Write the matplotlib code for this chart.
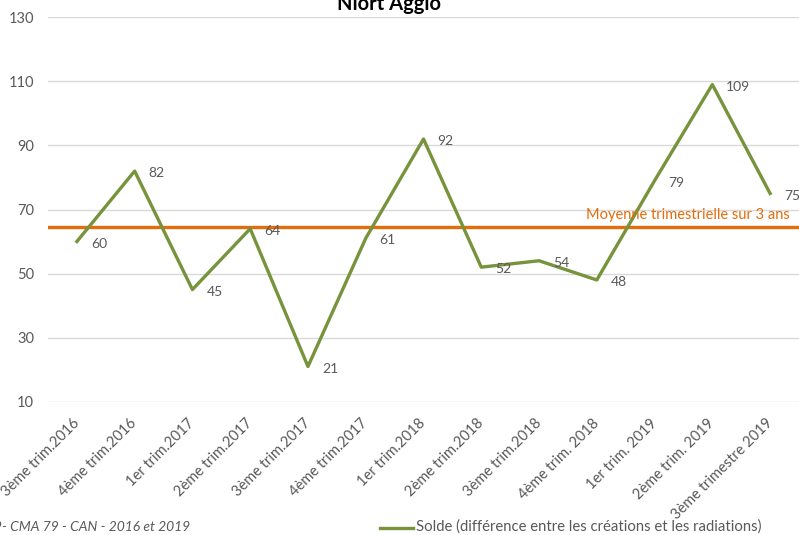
import matplotlib
matplotlib.use("Agg")
import matplotlib.pyplot as plt

categories = ["3ème trim.2016", "4ème trim.2016", "1er trim.2017", "2ème trim.2017",
              "3ème trim.2017", "4ème trim.2017", "1er trim.2018", "2ème trim.2018",
              "3ème trim.2018", "4ème trim. 2018", "1er trim. 2019", "2ème trim. 2019",
              "3ème trimestre 2019"]
solde = [60, 82, 45, 64, 21, 61, 92, 52, 54, 48, 79, 109, 75]
moyenne = 64.4
yticks = [10, 30, 50, 70, 90, 110, 130]

title = "Niort Agglo"
avg_label = "Moyenne trimestrielle sur 3 ans"
legend_label = "Solde (différence entre les créations et les radiations)"
source = "79- CMA 79 - CAN - 2016 et 2019"

plt.rcParams['font.family'] = ['Lato', 'DejaVu Sans']
GREEN = "#77933C"
ORANGE = "#E46C0A"
GREY = "#595959"
W, H = 799, 535

fig = plt.figure(figsize=(W/100, H/100), dpi=100)
ax = fig.add_axes([48/W, 1-401.7/H, 1-48/W, (401.7-17.3)/H])
x = list(range(len(categories)))
ax.set_xlim(-0.5, 12.5)
ax.set_ylim(10, 130)
ax.set_yticks(yticks)
ax.yaxis.grid(True, color="#D9D9D9", linewidth=1)
ax.set_axisbelow(True)
for s in ax.spines.values():
    s.set_visible(False)
ax.tick_params(axis='both', length=0, colors=GREY)
ax.tick_params(axis='y', pad=10, labelsize=10.5)
ax.set_xticks(x)
ax.set_xticklabels(categories, rotation=45, ha='right', va='center',
                   rotation_mode='anchor', fontsize=10.5, color=GREY)
ax.tick_params(axis='x', pad=14)

ax.axhline(moyenne, color=ORANGE, linewidth=2.4, zorder=2)
ax.plot(x, solde, color=GREEN, linewidth=2.4, zorder=3)
for xi, v in zip(x, solde):
    ax.annotate(str(v), (xi, v), xytext=(10, -1.5), textcoords='offset points',
                ha='left', va='center', fontsize=10, color=GREY, annotation_clip=False)
ax.annotate(avg_label, (12.5, moyenne), xytext=(-6.5, 9), textcoords='offset points',
            ha='right', va='center', fontsize=10.5, color=ORANGE, annotation_clip=False)

fig.text(389/W, 1-10/H, title, ha='center', va='baseline', fontsize=14.5,
         fontweight='bold', color='black')
fig.text(190/W, 1-527/H, source, ha='right', va='center', fontsize=10,
         style='italic', color=GREY)
fig.add_artist(plt.Line2D([380/W, 413/W], [1-528/H, 1-528/H], color=GREEN, linewidth=2.4))
fig.text(416/W, 1-527/H, legend_label, ha='left', va='center', fontsize=10.7, color=GREY)

fig.savefig("out.png", dpi=100)
